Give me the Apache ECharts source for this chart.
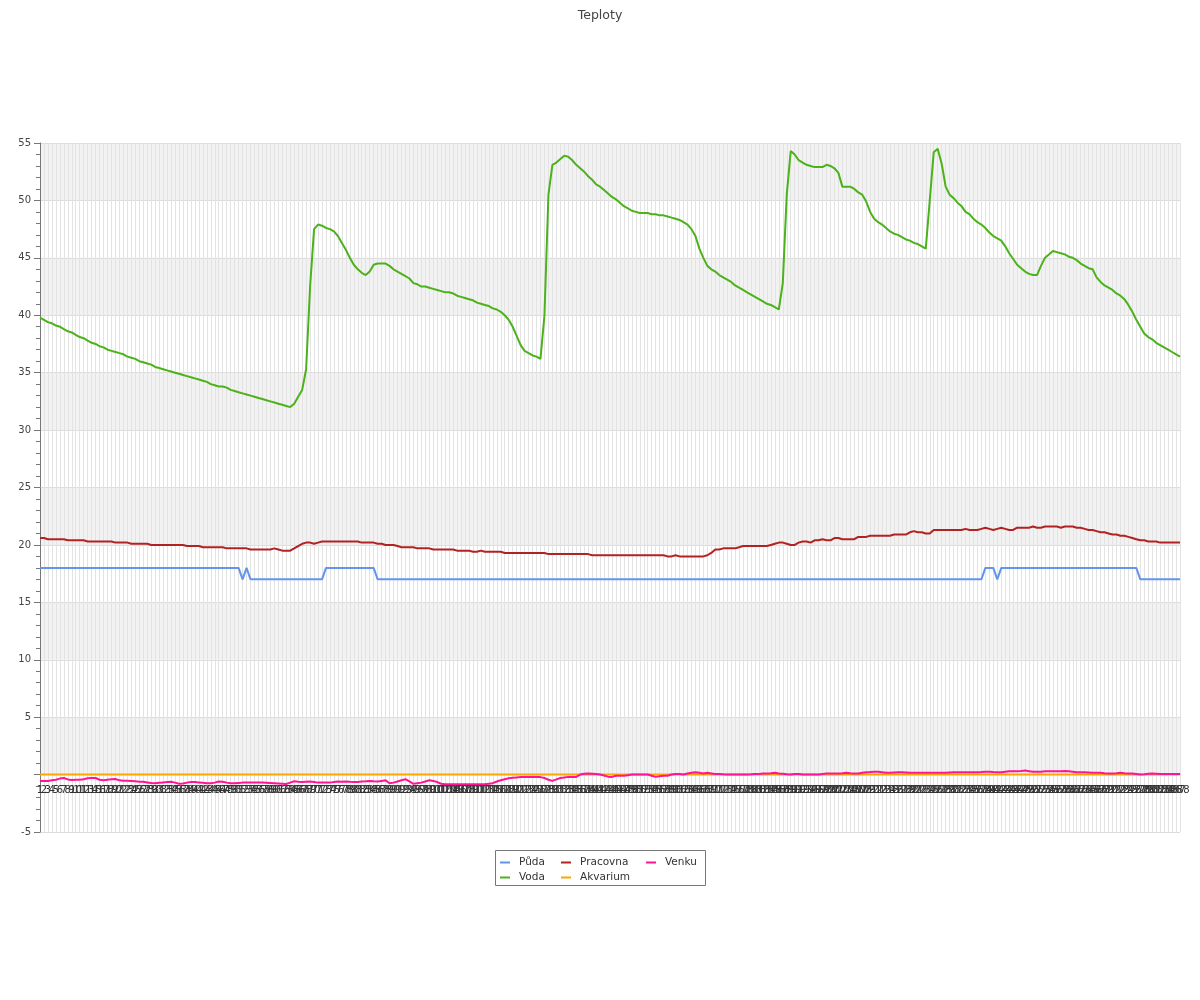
<!DOCTYPE html>
<html>
<head>
<meta charset="utf-8">
<style>html,body{margin:0;padding:0;background:#fff;}#chart{width:1200px;height:1000px;}</style>
<script src="https://cdn.jsdelivr.net/npm/echarts@6/dist/echarts.min.js"></script>
</head>
<body>
<div id="chart"></div>
<script>
const categories = [
1,2,3,4,5,6,7,8,9,10,11,12,13,14,15,16,17,18,19,20,21,22,23,24,
25,26,27,28,29,30,31,32,33,34,35,36,37,38,39,40,41,42,43,44,45,46,47,48,
49,50,51,52,53,54,55,56,57,58,59,60,61,62,63,64,65,66,67,68,69,70,71,72,
73,74,75,76,77,78,79,80,81,82,83,84,85,86,87,88,89,90,91,92,93,94,95,96,
97,98,99,100,101,102,103,104,105,106,107,108,109,110,111,112,113,114,115,116,117,118,119,120,
121,122,123,124,125,126,127,128,129,130,131,132,133,134,135,136,137,138,139,140,141,142,143,144,
145,146,147,148,149,150,151,152,153,154,155,156,157,158,159,160,161,162,163,164,165,166,167,168,
169,170,171,172,173,174,175,176,177,178,179,180,181,182,183,184,185,186,187,188,189,190,191,192,
193,194,195,196,197,198,199,200,201,202,203,204,205,206,207,208,209,210,211,212,213,214,215,216,
217,218,219,220,221,222,223,224,225,226,227,228,229,230,231,232,233,234,235,236,237,238,239,240,
241,242,243,244,245,246,247,248,249,250,251,252,253,254,255,256,257,258,259,260,261,262,263,264,
265,266,267,268,269,270,271,272,273,274,275,276,277,278,279,280,281,282,283,284,285,286,287,288
];

const yTicks = { min: -5, max: 55, step: 5 };

const puda = [
18,18,18,18,18,18,18,18,18,18,18,18,
18,18,18,18,18,18,18,18,18,18,18,18,
18,18,18,18,18,18,18,18,18,18,18,18,
18,18,18,18,18,18,18,18,18,18,18,18,
18,18,18,17,18,17,17,17,17,17,17,17,
17,17,17,17,17,17,17,17,17,17,17,17,
18,18,18,18,18,18,18,18,18,18,18,18,
18,17,17,17,17,17,17,17,17,17,17,17,
17,17,17,17,17,17,17,17,17,17,17,17,
17,17,17,17,17,17,17,17,17,17,17,17,
17,17,17,17,17,17,17,17,17,17,17,17,
17,17,17,17,17,17,17,17,17,17,17,17,
17,17,17,17,17,17,17,17,17,17,17,17,
17,17,17,17,17,17,17,17,17,17,17,17,
17,17,17,17,17,17,17,17,17,17,17,17,
17,17,17,17,17,17,17,17,17,17,17,17,
17,17,17,17,17,17,17,17,17,17,17,17,
17,17,17,17,17,17,17,17,17,17,17,17,
17,17,17,17,17,17,17,17,17,17,17,17,
17,17,17,17,17,17,17,17,17,17,18,18,
18,17,18,18,18,18,18,18,18,18,18,18,
18,18,18,18,18,18,18,18,18,18,18,18,
18,18,18,18,18,18,18,18,18,18,18,18,
18,17,17,17,17,17,17,17,17,17,17,17
];

const voda = [
39.8,39.6,39.4,39.3,39.1,39.0,38.8,38.6,38.5,38.3,
38.1,38.0,37.8,37.6,37.5,37.3,37.2,37.0,36.9,36.8,
36.7,36.6,36.4,36.3,36.2,36.0,35.9,35.8,35.7,35.5,
35.4,35.3,35.2,35.1,35.0,34.9,34.8,34.7,34.6,34.5,
34.4,34.3,34.2,34.0,33.9,33.8,33.8,33.7,33.5,33.4,
33.3,33.2,33.1,33.0,32.9,32.8,32.7,32.6,32.5,32.4,
32.3,32.2,32.1,32.0,32.3,32.9,33.5,35.3,42.5,47.5,
47.9,47.8,47.6,47.5,47.3,46.9,46.3,45.7,45.0,44.4,
44.0,43.7,43.5,43.8,44.4,44.5,44.5,44.5,44.3,44.0,
43.8,43.6,43.4,43.2,42.8,42.7,42.5,42.5,42.4,42.3,
42.2,42.1,42.0,42.0,41.9,41.7,41.6,41.5,41.4,41.3,
41.1,41.0,40.9,40.8,40.6,40.5,40.3,40.0,39.6,39.0,
38.2,37.4,36.9,36.7,36.5,36.4,36.2,40.0,50.5,53.1,
53.3,53.6,53.9,53.8,53.5,53.1,52.8,52.5,52.1,51.8,
51.4,51.2,50.9,50.6,50.3,50.1,49.8,49.5,49.3,49.1,
49.0,48.9,48.9,48.9,48.8,48.8,48.7,48.7,48.6,48.5,
48.4,48.3,48.1,47.9,47.5,46.9,45.8,45.0,44.3,44.0,
43.8,43.5,43.3,43.1,42.9,42.6,42.4,42.2,42.0,41.8,
41.6,41.4,41.2,41.0,40.9,40.7,40.5,42.8,50.5,54.3,
54.0,53.5,53.3,53.1,53.0,52.9,52.9,52.9,53.1,53.0,
52.8,52.4,51.2,51.2,51.2,51.0,50.7,50.5,49.9,49.0,
48.4,48.1,47.9,47.6,47.3,47.1,47.0,46.8,46.6,46.5,
46.3,46.2,46.0,45.8,50.0,54.2,54.5,53.2,51.2,50.5,
50.2,49.8,49.5,49.0,48.8,48.4,48.1,47.9,47.6,47.2,
46.9,46.7,46.5,46.0,45.4,44.9,44.4,44.1,43.8,43.6,
43.5,43.5,44.3,45.0,45.3,45.6,45.5,45.4,45.3,45.1,
45.0,44.8,44.5,44.3,44.1,44.0,43.3,42.9,42.6,42.4,
42.2,41.9,41.7,41.4,40.9,40.3,39.6,39.0,38.4,38.1,
37.9,37.6,37.4,37.2,37.0,36.8,36.6,36.4
];

const pracovna = [
20.6,20.6,20.5,20.5,20.5,20.5,20.5,20.4,20.4,20.4,
20.4,20.4,20.3,20.3,20.3,20.3,20.3,20.3,20.3,20.2,
20.2,20.2,20.2,20.1,20.1,20.1,20.1,20.1,20.0,20.0,
20.0,20.0,20.0,20.0,20.0,20.0,20.0,19.9,19.9,19.9,
19.9,19.8,19.8,19.8,19.8,19.8,19.8,19.7,19.7,19.7,
19.7,19.7,19.7,19.6,19.6,19.6,19.6,19.6,19.6,19.7,
19.6,19.5,19.5,19.5,19.7,19.9,20.1,20.2,20.2,20.1,
20.2,20.3,20.3,20.3,20.3,20.3,20.3,20.3,20.3,20.3,
20.3,20.2,20.2,20.2,20.2,20.1,20.1,20.0,20.0,20.0,
19.9,19.8,19.8,19.8,19.8,19.7,19.7,19.7,19.7,19.6,
19.6,19.6,19.6,19.6,19.6,19.5,19.5,19.5,19.5,19.4,
19.4,19.5,19.4,19.4,19.4,19.4,19.4,19.3,19.3,19.3,
19.3,19.3,19.3,19.3,19.3,19.3,19.3,19.3,19.2,19.2,
19.2,19.2,19.2,19.2,19.2,19.2,19.2,19.2,19.2,19.1,
19.1,19.1,19.1,19.1,19.1,19.1,19.1,19.1,19.1,19.1,
19.1,19.1,19.1,19.1,19.1,19.1,19.1,19.1,19.0,19.0,
19.1,19.0,19.0,19.0,19.0,19.0,19.0,19.0,19.1,19.3,
19.6,19.6,19.7,19.7,19.7,19.7,19.8,19.9,19.9,19.9,
19.9,19.9,19.9,19.9,20.0,20.1,20.2,20.2,20.1,20.0,
20.0,20.2,20.3,20.3,20.2,20.4,20.4,20.5,20.4,20.4,
20.6,20.6,20.5,20.5,20.5,20.5,20.7,20.7,20.7,20.8,
20.8,20.8,20.8,20.8,20.8,20.9,20.9,20.9,20.9,21.1,
21.2,21.1,21.1,21.0,21.0,21.3,21.3,21.3,21.3,21.3,
21.3,21.3,21.3,21.4,21.3,21.3,21.3,21.4,21.5,21.4,
21.3,21.4,21.5,21.4,21.3,21.3,21.5,21.5,21.5,21.5,
21.6,21.5,21.5,21.6,21.6,21.6,21.6,21.5,21.6,21.6,
21.6,21.5,21.5,21.4,21.3,21.3,21.2,21.1,21.1,21.0,
20.9,20.9,20.8,20.8,20.7,20.6,20.5,20.4,20.4,20.3,
20.3,20.3,20.2,20.2,20.2,20.2,20.2,20.2
];

const akvarium = [
0,0,0,0,0,0,0,0,0,0,0,0,0,0,0,0,0,0,0,0,0,0,0,0,
0,0,0,0,0,0,0,0,0,0,0,0,0,0,0,0,0,0,0,0,0,0,0,0,
0,0,0,0,0,0,0,0,0,0,0,0,0,0,0,0,0,0,0,0,0,0,0,0,
0,0,0,0,0,0,0,0,0,0,0,0,0,0,0,0,0,0,0,0,0,0,0,0,
0,0,0,0,0,0,0,0,0,0,0,0,0,0,0,0,0,0,0,0,0,0,0,0,
0,0,0,0,0,0,0,0,0,0,0,0,0,0,0,0,0,0,0,0,0,0,0,0,
0,0,0,0,0,0,0,0,0,0,0,0,0,0,0,0,0,0,0,0,0,0,0,0,
0,0,0,0,0,0,0,0,0,0,0,0,0,0,0,0,0,0,0,0,0,0,0,0,
0,0,0,0,0,0,0,0,0,0,0,0,0,0,0,0,0,0,0,0,0,0,0,0,
0,0,0,0,0,0,0,0,0,0,0,0,0,0,0,0,0,0,0,0,0,0,0,0,
0,0,0,0,0,0,0,0,0,0,0,0,0,0,0,0,0,0,0,0,0,0,0,0,
0,0,0,0,0,0,0,0,0,0,0,0,0,0,0,0,0,0,0,0,0,0,0,0
];

const venku = [
-0.55,-0.55,-0.55,-0.5,-0.45,-0.35,-0.3,-0.42,-0.47,-0.45,
-0.45,-0.4,-0.32,-0.3,-0.3,-0.45,-0.5,-0.45,-0.4,-0.38,
-0.5,-0.53,-0.53,-0.55,-0.58,-0.62,-0.62,-0.68,-0.74,-0.76,
-0.72,-0.68,-0.65,-0.62,-0.7,-0.8,-0.78,-0.7,-0.65,-0.64,
-0.68,-0.72,-0.75,-0.76,-0.7,-0.6,-0.62,-0.7,-0.75,-0.76,
-0.73,-0.7,-0.7,-0.68,-0.68,-0.7,-0.7,-0.72,-0.74,-0.76,
-0.78,-0.8,-0.82,-0.7,-0.58,-0.62,-0.65,-0.62,-0.6,-0.65,
-0.7,-0.68,-0.7,-0.7,-0.65,-0.6,-0.62,-0.6,-0.63,-0.65,
-0.65,-0.6,-0.58,-0.55,-0.58,-0.6,-0.55,-0.5,-0.75,-0.7,
-0.6,-0.5,-0.4,-0.6,-0.8,-0.75,-0.7,-0.6,-0.5,-0.55,
-0.65,-0.8,-0.85,-0.85,-0.85,-0.85,-0.85,-0.85,-0.85,-0.85,
-0.85,-0.85,-0.85,-0.8,-0.75,-0.6,-0.5,-0.4,-0.32,-0.28,
-0.25,-0.22,-0.2,-0.2,-0.2,-0.2,-0.22,-0.3,-0.45,-0.55,
-0.42,-0.3,-0.25,-0.2,-0.2,-0.2,0,0.08,0.1,0.08,
0.05,0,-0.08,-0.18,-0.2,-0.1,-0.1,-0.1,-0.05,0,
0,0,0,0,-0.1,-0.2,-0.15,-0.1,-0.1,0,
0.05,0.05,0,0.1,0.15,0.2,0.15,0.1,0.15,0.1,
0.05,0.05,0.02,0,0,0,0,0,0,0.02,
0.05,0.05,0.1,0.1,0.12,0.15,0.1,0.08,0.02,0,
0.05,0.05,0,0,0,0,0,0.05,0.1,0.1,
0.1,0.1,0.12,0.15,0.12,0.1,0.1,0.15,0.2,0.22,
0.25,0.25,0.2,0.15,0.15,0.18,0.2,0.2,0.18,0.15,
0.15,0.15,0.15,0.15,0.15,0.15,0.15,0.15,0.15,0.18,
0.2,0.2,0.2,0.2,0.2,0.2,0.2,0.22,0.25,0.25,
0.22,0.2,0.2,0.25,0.3,0.3,0.3,0.32,0.35,0.3,
0.25,0.25,0.25,0.28,0.3,0.3,0.3,0.3,0.32,0.3,
0.25,0.2,0.2,0.2,0.18,0.15,0.15,0.15,0.12,0.1,
0.1,0.12,0.15,0.12,0.1,0.1,0.05,0,0.02,0.08,
0.1,0.08,0.05,0.05,0.05,0.05,0.05,0.05
];

const seriesNames = ['Půda', 'Voda', 'Pracovna', 'Akvarium', 'Venku'];
const seriesColors = ['#6495ed', '#4cb21a', '#b22222', '#ffa500', '#ff1493'];
const seriesData = [puda, voda, pracovna, akvarium, venku];

const FONT = 'DejaVu Sans';
const GRID_TOP = 143, GRID_BOTTOM = 168, CHART_H = 1000;
const chart = echarts.init(document.getElementById('chart'), null, { renderer: 'canvas' });

function legendBlock(names, left) {
  return {
    orient: 'vertical',
    left: left,
    top: 857,
    padding: 0,
    itemGap: 4,
    itemWidth: 10,
    itemHeight: 2,
    icon: 'rect',
    selectedMode: false,
    data: names,
    textStyle: { fontFamily: FONT, fontSize: 10.5, color: '#333', padding: [0, 0, 0, 4] }
  };
}

// place the category axis (line + labels) on the value 0, as in the reference
const plotH = CHART_H - GRID_TOP - GRID_BOTTOM;
const zeroOffset = -plotH * (0 - yTicks.min) / (yTicks.max - yTicks.min);

chart.setOption({
  animation: false,
  color: seriesColors,
  title: {
    text: 'Teploty',
    left: 'center',
    top: 4,
    textStyle: { fontFamily: FONT, fontSize: 12.5, fontWeight: 'normal', color: '#444' }
  },
  legend: [
    legendBlock(['Půda', 'Voda'], 500),
    legendBlock(['Pracovna', 'Akvarium'], 561),
    legendBlock(['Venku'], 646)
  ],
  graphic: [{
    type: 'rect',
    shape: { x: 495.5, y: 850.5, width: 210, height: 35 },
    style: { fill: 'none', stroke: '#777', lineWidth: 1 },
    silent: true
  }],
  grid: { left: 40, right: 20, top: GRID_TOP, bottom: GRID_BOTTOM, containLabel: false },
  xAxis: {
    type: 'category',
    data: categories,
    boundaryGap: false,
    offset: zeroOffset,
    axisLine: { onZero: false, lineStyle: { color: '#999' } },
    axisTick: { show: false },
    axisLabel: { interval: 0, fontFamily: FONT, fontSize: 10, color: '#333', margin: 11 },
    splitLine: { show: true, interval: 0, lineStyle: { color: '#e3e3e3', width: 1 } }
  },
  yAxis: {
    type: 'value',
    min: yTicks.min,
    max: yTicks.max,
    interval: yTicks.step,
    axisLine: { show: true, lineStyle: { color: '#777' } },
    axisTick: { show: true, length: 6, lineStyle: { color: '#777' } },
    minorTick: { show: true, splitNumber: 5, length: 4, lineStyle: { color: '#777' } },
    axisLabel: {
      fontFamily: FONT, fontSize: 10, color: '#444', margin: 9,
      formatter: function (v) { return v === 0 ? '' : String(v); }
    },
    splitLine: { show: true, lineStyle: { color: '#dcdcdc' } },
    splitArea: { show: true, areaStyle: { color: ['rgba(255,255,255,0)', '#f2f2f2'] } }
  },
  series: seriesNames.map(function (name, k) {
    return {
      name: name,
      type: 'line',
      data: seriesData[k],
      symbol: 'none',
      showSymbol: false,
      lineStyle: { width: 2, color: seriesColors[k] },
      itemStyle: { color: seriesColors[k] }
    };
  })
});
</script>
</body>
</html>
